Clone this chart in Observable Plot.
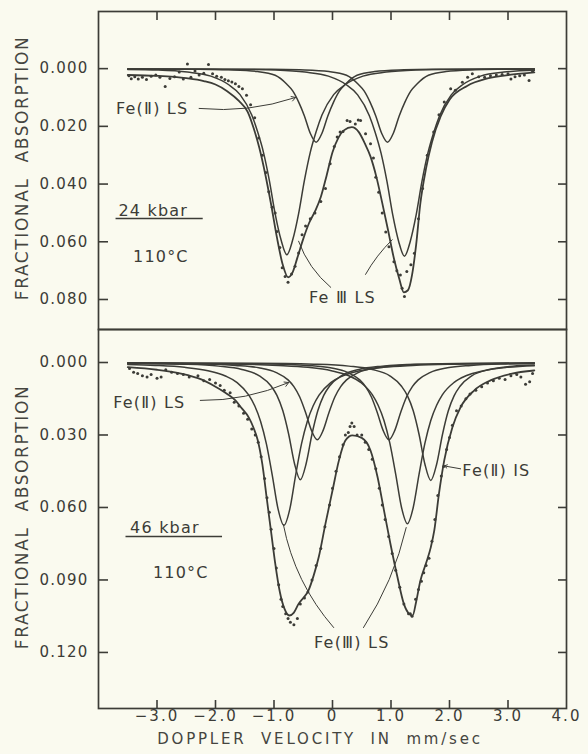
<!DOCTYPE html>
<html><head><meta charset="utf-8">
<script src="https://cdn.jsdelivr.net/npm/d3@7"></script>
<script src="https://cdn.jsdelivr.net/npm/@observablehq/plot@0.6"></script>
<style>
html,body{margin:0;padding:0;background:#fafaef;}
#wrap{position:relative;width:588px;height:754px;overflow:hidden;font-family:"DejaVu Sans",sans-serif;color:#45453f;background:#fafaef;}
#top,#bot{position:absolute;left:0;}
#top{top:0;} #bot{top:320px;}
.ytitle{position:absolute;left:22px;transform:translate(-50%,-50%) rotate(-90deg);white-space:nowrap;font-size:17px;letter-spacing:1.6px;word-spacing:8px;line-height:18px;}
.xtitle{position:absolute;left:320px;top:739px;transform:translate(-50%,-50%);white-space:nowrap;font-size:15px;letter-spacing:2.8px;word-spacing:7px;line-height:16px;}
#wrap svg text{letter-spacing:1.2px;}
#wrap g[aria-label="x-axis tick label"] text{font-size:15px;letter-spacing:2px;}
#wrap g[aria-label="ann"] text{letter-spacing:1.4px;word-spacing:3px;}
</style></head><body>
<div id="wrap">
 <div id="top"></div><div id="bot"></div>
 <div class="ytitle" style="top:168px">FRACTIONAL ABSORPTION</div>
 <div class="ytitle" style="top:517px">FRACTIONAL ABSORPTION</div>
 <div class="xtitle">DOPPLER VELOCITY IN mm/sec</div>
</div>
<script>
// ---------- axes ----------
const xTicks = [-3, -2, -1, 0, 1, 2, 3];
const xTickLabels = [-3, -2, -1, 0, 1, 2, 3, 4];
const yTicksTop = [0, 0.02, 0.04, 0.06, 0.08];
const yTicksBot = [0, 0.03, 0.06, 0.09, 0.12];

// ---------- 24 kbar, 110 °C (top panel) ----------
const topFeIILS1 = [[-3.5,0.0001],[-2.28,0.0002],[-1.78,0.0004],[-1.28,0.0010],[-0.98,0.0023],[-0.78,0.0054],[-0.68,0.0077],[-0.58,0.0115],[-0.48,0.0164],[-0.38,0.0224],[-0.28,0.0255],[-0.18,0.0224],[-0.08,0.0164],[0.02,0.0115],[0.12,0.0077],[0.22,0.0054],[0.42,0.0023],[0.72,0.0010],[1.22,0.0004],[1.72,0.0002],[3.45,0.0001]];
const topFeIILS2 = [[-3.5,0.0001],[-1.06,0.0002],[-0.56,0.0004],[-0.06,0.0010],[0.24,0.0023],[0.44,0.0054],[0.54,0.0077],[0.64,0.0115],[0.74,0.0164],[0.84,0.0224],[0.94,0.0255],[1.04,0.0224],[1.14,0.0164],[1.24,0.0115],[1.34,0.0077],[1.44,0.0054],[1.64,0.0023],[1.94,0.0010],[2.44,0.0004],[2.94,0.0002],[3.45,0.0001]];
const topFeIIILS1 = [[-3.5,0.0003],[-2.98,0.0005],[-2.48,0.0012],[-2.08,0.0026],[-1.78,0.0055],[-1.58,0.0090],[-1.38,0.0161],[-1.28,0.0219],[-1.18,0.0290],[-1.08,0.0387],[-0.98,0.0503],[-0.88,0.0593],[-0.78,0.0645],[-0.68,0.0593],[-0.58,0.0503],[-0.48,0.0387],[-0.38,0.0290],[-0.28,0.0219],[-0.18,0.0161],[0.02,0.0090],[0.22,0.0055],[0.52,0.0026],[0.92,0.0012],[1.42,0.0005],[1.92,0.0003],[3.45,0.0001]];
const topFeIIILS2 = [[-3.5,0.0001],[-1.47,0.0003],[-0.97,0.0005],[-0.47,0.0012],[-0.07,0.0026],[0.23,0.0055],[0.43,0.0091],[0.63,0.0163],[0.73,0.0221],[0.83,0.0293],[0.93,0.0390],[1.03,0.0507],[1.13,0.0598],[1.23,0.0650],[1.33,0.0598],[1.43,0.0507],[1.53,0.0390],[1.63,0.0293],[1.73,0.0221],[1.83,0.0163],[2.03,0.0091],[2.23,0.0055],[2.53,0.0026],[2.93,0.0012],[3.45,0.0006]];
const topTotal = [[-3.5,0.0022],[-3.0,0.0025],[-2.5,0.0033],[-2.2,0.0043],[-2.0,0.0055],[-1.8,0.0078],[-1.6,0.0112],[-1.45,0.0150],[-1.35,0.0205],[-1.25,0.0275],[-1.15,0.0365],[-1.05,0.0470],[-0.95,0.0585],[-0.85,0.0680],[-0.76,0.0723],[-0.68,0.0705],[-0.6,0.0655],[-0.5,0.0590],[-0.4,0.0535],[-0.3,0.0495],[-0.2,0.0445],[-0.1,0.0370],[0.0,0.0290],[0.1,0.0240],[0.2,0.0213],[0.33,0.0203],[0.45,0.0220],[0.55,0.0258],[0.65,0.0305],[0.75,0.0375],[0.85,0.0465],[0.95,0.0560],[1.05,0.0658],[1.14,0.0727],[1.22,0.0775],[1.29,0.0768],[1.36,0.0715],[1.43,0.0610],[1.5,0.0470],[1.6,0.0345],[1.7,0.0255],[1.85,0.0165],[2.0,0.0108],[2.3,0.0060],[2.65,0.0034],[3.05,0.0021],[3.45,0.0013]];
const topDots = [[-3.48,0.0025],[-3.44,0.0035],[-3.38,0.0028],[-3.32,0.0036],[-3.25,0.0030],[-3.18,0.0038],[-3.1,0.0026],[-3.02,0.0022],[-2.95,0.0030],[-2.86,0.0062],[-2.78,0.0034],[-2.7,0.0028],[-2.62,0.0012],[-2.55,0.0036],[-2.48,-0.0016],[-2.42,0.0030],[-2.35,0.0008],[-2.28,0.0022],[-2.2,0.0016],[-2.12,-0.0014],[-2.05,0.0018],[-1.98,0.0026],[-1.9,0.0030],[-1.84,0.0038],[-1.78,0.0042],[-1.72,0.0046],[-1.66,0.0052],[-1.6,0.0062],[-1.54,0.0070],[-1.47,0.0092],[-1.4,0.0125],[-1.33,0.0170],[-1.26,0.0240],[-1.2,0.0300],[-1.14,0.0360],[-1.09,0.0427],[-1.03,0.0480],[-0.98,0.0500],[-0.95,0.0564],[-0.9,0.0620],[-0.86,0.0690],[-0.81,0.0720],[-0.76,0.0740],[-0.7,0.0712],[-0.64,0.0685],[-0.58,0.0639],[-0.52,0.0576],[-0.46,0.0545],[-0.38,0.0520],[-0.3,0.0500],[-0.2,0.0460],[-0.12,0.0415],[-0.04,0.0330],[0.03,0.0270],[0.08,0.0237],[0.13,0.0220],[0.18,0.0218],[0.25,0.0180],[0.3,0.0183],[0.39,0.0192],[0.44,0.0178],[0.48,0.0180],[0.565,0.0226],[0.65,0.0260],[0.7,0.0310],[0.74,0.0376],[0.79,0.0428],[0.85,0.0500],[0.91,0.0566],[0.965,0.0617],[1.05,0.0669],[1.1,0.0700],[1.16,0.0715],[1.19,0.0761],[1.23,0.0790],[1.27,0.0703],[1.34,0.0680],[1.4,0.0640],[1.47,0.0520],[1.54,0.0415],[1.62,0.0300],[1.73,0.0220],[1.82,0.0160],[1.91,0.0116],[2.02,0.0070],[2.1,0.0075],[2.22,0.0047],[2.31,0.0030],[2.39,0.0018],[2.5,0.0028],[2.6,0.0030],[2.7,0.0025],[2.8,0.0022],[2.9,0.0020],[3.0,0.0018],[3.05,0.0036],[3.12,0.0028],[3.2,0.0025],[3.28,0.0022],[3.36,0.0041],[3.42,0.0010]];

// ---------- 46 kbar, 110 °C (bottom panel) ----------
const botFeIILS1 = [[-3.5,0.0002],[-3.26,0.0003],[-2.26,0.0006],[-1.66,0.0012],[-1.26,0.0022],[-0.96,0.0042],[-0.76,0.0072],[-0.66,0.0100],[-0.56,0.0143],[-0.46,0.0207],[-0.36,0.0281],[-0.26,0.0320],[-0.16,0.0281],[-0.06,0.0207],[0.04,0.0143],[0.14,0.0100],[0.24,0.0072],[0.44,0.0042],[0.74,0.0022],[1.14,0.0012],[1.74,0.0006],[3.45,0.0002]];
const botFeIILS2 = [[-3.5,0.0002],[-1.035,0.0006],[-0.435,0.0012],[-0.035,0.0022],[0.265,0.0042],[0.465,0.0072],[0.565,0.0100],[0.665,0.0143],[0.765,0.0207],[0.865,0.0281],[0.965,0.0320],[1.065,0.0281],[1.165,0.0207],[1.265,0.0143],[1.365,0.0100],[1.465,0.0072],[1.665,0.0042],[1.965,0.0022],[2.365,0.0012],[2.965,0.0006],[3.45,0.0004]];
const botFeIIIS1 = [[-3.5,0.0003],[-2.55,0.0007],[-1.95,0.0015],[-1.55,0.0029],[-1.25,0.0055],[-1.05,0.0097],[-0.95,0.0136],[-0.85,0.0199],[-0.75,0.0296],[-0.65,0.0418],[-0.55,0.0485],[-0.45,0.0418],[-0.35,0.0296],[-0.25,0.0199],[-0.15,0.0136],[-0.05,0.0097],[0.15,0.0055],[0.45,0.0029],[0.85,0.0015],[1.45,0.0007],[3.45,0.0002]];
const botFeIIIS2 = [[-3.5,0.0002],[-1.32,0.0003],[-0.32,0.0007],[0.28,0.0015],[0.68,0.0029],[0.98,0.0055],[1.18,0.0098],[1.28,0.0137],[1.38,0.0200],[1.48,0.0298],[1.58,0.0421],[1.68,0.0488],[1.78,0.0421],[1.88,0.0298],[1.98,0.0200],[2.08,0.0137],[2.18,0.0098],[2.38,0.0055],[2.68,0.0029],[3.08,0.0015],[3.45,0.0010]];
const botFeIIILS1 = [[-3.5,0.0008],[-3.03,0.0012],[-2.53,0.0020],[-2.13,0.0034],[-1.83,0.0056],[-1.63,0.0083],[-1.43,0.0135],[-1.33,0.0179],[-1.23,0.0243],[-1.13,0.0337],[-1.03,0.0466],[-0.93,0.0607],[-0.83,0.0674],[-0.73,0.0607],[-0.63,0.0466],[-0.53,0.0337],[-0.43,0.0243],[-0.33,0.0179],[-0.23,0.0135],[-0.03,0.0083],[0.17,0.0056],[0.47,0.0034],[0.87,0.0020],[1.37,0.0012],[1.97,0.0007],[3.45,0.0003]];
const botFeIIILS2 = [[-3.5,0.0003],[-1.52,0.0007],[-0.92,0.0012],[-0.42,0.0020],[-0.02,0.0034],[0.28,0.0055],[0.48,0.0082],[0.68,0.0133],[0.78,0.0177],[0.88,0.0240],[0.98,0.0334],[1.08,0.0462],[1.18,0.0600],[1.28,0.0667],[1.38,0.0600],[1.48,0.0462],[1.58,0.0334],[1.68,0.0240],[1.78,0.0177],[1.88,0.0133],[2.08,0.0082],[2.28,0.0055],[2.58,0.0034],[2.98,0.0020],[3.45,0.0013]];
const botTotal = [[-3.5,0.0019],[-3.0,0.0030],[-2.57,0.0047],[-2.3,0.0065],[-2.0,0.0100],[-1.8,0.0130],[-1.66,0.0157],[-1.55,0.0190],[-1.43,0.0228],[-1.35,0.0270],[-1.28,0.0320],[-1.2,0.0420],[-1.12,0.0570],[-1.05,0.0700],[-0.98,0.0830],[-0.9,0.0950],[-0.82,0.1020],[-0.74,0.1047],[-0.66,0.1035],[-0.58,0.0999],[-0.5,0.0975],[-0.41,0.0943],[-0.32,0.0880],[-0.235,0.0805],[-0.12,0.0667],[0.0,0.0530],[0.11,0.0405],[0.22,0.0323],[0.34,0.0302],[0.5,0.0312],[0.65,0.0364],[0.77,0.0474],[0.88,0.0612],[0.99,0.0750],[1.11,0.0888],[1.22,0.0999],[1.31,0.1040],[1.37,0.1047],[1.43,0.0990],[1.5,0.0905],[1.6,0.0830],[1.68,0.0765],[1.74,0.0695],[1.82,0.0543],[1.91,0.0405],[2.05,0.0268],[2.19,0.0185],[2.42,0.0116],[2.7,0.0074],[3.05,0.0047],[3.45,0.0033]];
const botDots = [[-3.47,0.0025],[-3.4,0.0040],[-3.33,0.0045],[-3.25,0.0055],[-3.17,0.0060],[-3.1,0.0050],[-3.0,0.0065],[-2.93,0.0060],[-2.85,0.0030],[-2.75,0.0040],[-2.65,0.0045],[-2.55,0.0050],[-2.45,0.0060],[-2.3,0.0055],[-2.2,0.0075],[-2.1,0.0070],[-2.0,0.0085],[-1.92,0.0095],[-1.85,0.0115],[-1.75,0.0125],[-1.68,0.0165],[-1.6,0.0180],[-1.52,0.0210],[-1.45,0.0235],[-1.38,0.0275],[-1.32,0.0300],[-1.27,0.0330],[-1.22,0.0390],[-1.16,0.0480],[-1.12,0.0560],[-1.08,0.0620],[-1.05,0.0690],[-1.0,0.0770],[-0.96,0.0850],[-0.92,0.0920],[-0.88,0.0980],[-0.85,0.1010],[-0.8,0.1040],[-0.76,0.1060],[-0.72,0.1075],[-0.66,0.1085],[-0.6,0.1060],[-0.55,0.1000],[-0.48,0.0975],[-0.42,0.0950],[-0.35,0.0900],[-0.28,0.0840],[-0.2,0.0770],[-0.13,0.0680],[-0.05,0.0590],[0.0,0.0520],[0.06,0.0450],[0.12,0.0390],[0.18,0.0340],[0.22,0.0300],[0.27,0.0290],[0.3,0.0265],[0.33,0.0250],[0.37,0.0265],[0.42,0.0300],[0.5,0.0300],[0.56,0.0330],[0.62,0.0360],[0.68,0.0400],[0.74,0.0440],[0.8,0.0520],[0.85,0.0590],[0.9,0.0650],[0.96,0.0720],[1.02,0.0790],[1.08,0.0860],[1.15,0.0930],[1.22,0.1000],[1.3,0.1040],[1.33,0.1040],[1.36,0.1050],[1.42,0.0980],[1.47,0.0940],[1.52,0.0905],[1.56,0.0870],[1.6,0.0840],[1.65,0.0810],[1.7,0.0740],[1.75,0.0650],[1.8,0.0550],[1.86,0.0470],[1.9,0.0430],[1.95,0.0360],[2.0,0.0310],[2.05,0.0260],[2.12,0.0200],[2.2,0.0180],[2.28,0.0150],[2.35,0.0130],[2.45,0.0115],[2.55,0.0100],[2.65,0.0085],[2.75,0.0075],[2.85,0.0065],[2.95,0.0070],[3.05,0.0055],[3.15,0.0050],[3.22,0.0060],[3.3,0.0090],[3.37,0.0080],[3.42,0.0045]];

// ---------- annotations ----------
const topNotes = [
  {x:-3.70, y:0.0138, text:"Fe(Ⅱ) LS", anchor:"start"},
  {x:-3.66, y:0.0492, text:"24 kbar", anchor:"start"},
  {x:-3.41, y:0.0654, text:"110°C", anchor:"start"},
  {x:0.17, y:0.0796, text:"Fe Ⅲ LS", anchor:"middle"}
];
const topLeaders = [
  {x1:-2.28, y1:0.0138, x2:-0.63, y2:0.0100, bend:-12, head:7},
  {x1:-0.03, y1:0.0758, x2:-0.58, y2:0.0598, bend:15, head:0},
  {x1:0.565, y1:0.0713, x2:1.02, y2:0.0593, bend:8, head:0}
];
const topUnder = [{y:0.0519, x1:-3.70, x2:-2.21}];
const botNotes = [
  {x:-3.75, y:0.0166, text:"Fe(Ⅱ) LS", anchor:"start"},
  {x:-3.46, y:0.0683, text:"46 kbar", anchor:"start"},
  {x:-3.07, y:0.0869, text:"110°C", anchor:"start"},
  {x:2.22, y:0.0447, text:"Fe(Ⅱ) IS", anchor:"start"},
  {x:0.33, y:0.1159, text:"Fe(Ⅲ) LS", anchor:"middle"}
];
const botLeaders = [
  {x1:-2.26, y1:0.0157, x2:-0.75, y2:0.0083, bend:-12, head:7},
  {x1:2.19, y1:0.0440, x2:1.91, y2:0.0428, bend:0, head:5},
  {x1:0.02, y1:0.1097, x2:-0.84, y2:0.0671, bend:15, head:0},
  {x1:0.53, y1:0.1097, x2:1.26, y2:0.0683, bend:-10, head:0}
];
const botUnder = [{y:0.0720, x1:-3.53, x2:-1.88}];

// ---------- drawing ----------
const INK = "#3c3c37";
const fmtX = d => d === 0 ? "0" : (d < 0 ? "\u2212" : "") + Math.abs(d).toFixed(1);
const svgStyle = {background:"transparent", fontFamily:"DejaVu Sans, sans-serif", fontSize:"15px", color:INK, overflow:"visible"};

function panel({height, marginTop, marginBottom, yDomain, yTicks, curves, total, dots, notes, leaders, under, topTicks, bottomAxis}) {
  const marks = [
    Plot.frame({stroke: INK, strokeWidth: 1.7}),
    Plot.axisY(yTicks, {anchor:"left", tickSize:10, dx:10, tickFormat:() => "", label:null, strokeWidth:1.6}),
    Plot.axisY(yTicks, {anchor:"right", tickSize:9, dx:-9, tickFormat:() => "", label:null, strokeWidth:1.6}),
    Plot.axisY(yTicks, {anchor:"left", tickSize:0, tickPadding:10, tickFormat:d3.format(".3f"), label:null})
  ];
  if (topTicks) marks.push(Plot.axisX(xTicks, {anchor:"top", tickSize:8, dy:8, tickFormat:() => "", label:null, strokeWidth:1.6}));
  if (bottomAxis) {
    marks.push(Plot.axisX(xTicks, {anchor:"bottom", tickSize:8, dy:-8, tickFormat:() => "", label:null, strokeWidth:1.6}));
    marks.push(Plot.axisX(xTickLabels, {anchor:"bottom", tickSize:0, tickPadding:2, tickFormat:fmtX, label:null}));
  }
  for (const c of curves) marks.push(Plot.line(c, {x:d => d[0], y:d => d[1], curve:"monotone-x", stroke:INK, strokeWidth:1.5}));
  marks.push(Plot.line(total, {x:d => d[0], y:d => d[1], curve:"monotone-x", stroke:INK, strokeWidth:1.8}));
  marks.push(Plot.dot(dots, {x:d => d[0], y:d => d[1], r:1.5, fill:INK, stroke:null}));
  for (const l of leaders) marks.push(Plot.arrow([l], {x1:"x1", y1:"y1", x2:"x2", y2:"y2", bend:l.bend, headLength:l.head, stroke:INK, strokeWidth:1}));
  marks.push(Plot.ruleY(under, {y:"y", x1:"x1", x2:"x2", stroke:INK, strokeWidth:1.5}));
  marks.push(Plot.text(notes.filter(n => n.anchor === "start"), {x:"x", y:"y", text:"text", textAnchor:"start", fontSize:16, fill:INK, ariaLabel:"ann"}));
  marks.push(Plot.text(notes.filter(n => n.anchor === "middle"), {x:"x", y:"y", text:"text", textAnchor:"middle", fontSize:16, fill:INK, ariaLabel:"ann"}));
  return Plot.plot({
    width:588, height, marginLeft:98, marginRight:22, marginTop, marginBottom,
    style: svgStyle,
    x:{domain:[-4, 4]},
    y:{domain:yDomain, reverse:true},
    marks
  });
}

document.getElementById("top").append(panel({
  height:330, marginTop:11, marginBottom:1,
  yDomain:[-0.0198, 0.0904], yTicks:yTicksTop,
  curves:[topFeIILS1, topFeIILS2, topFeIIILS1, topFeIIILS2],
  total:topTotal, dots:topDots, notes:topNotes, leaders:topLeaders, under:topUnder,
  topTicks:true, bottomAxis:false
}));
document.getElementById("bot").append(panel({
  height:434, marginTop:9, marginBottom:46,
  yDomain:[-0.01366, 0.1432], yTicks:yTicksBot,
  curves:[botFeIILS1, botFeIILS2, botFeIIIS1, botFeIIIS2, botFeIIILS1, botFeIIILS2],
  total:botTotal, dots:botDots, notes:botNotes, leaders:botLeaders, under:botUnder,
  topTicks:false, bottomAxis:true
}));
</script>
</body></html>
